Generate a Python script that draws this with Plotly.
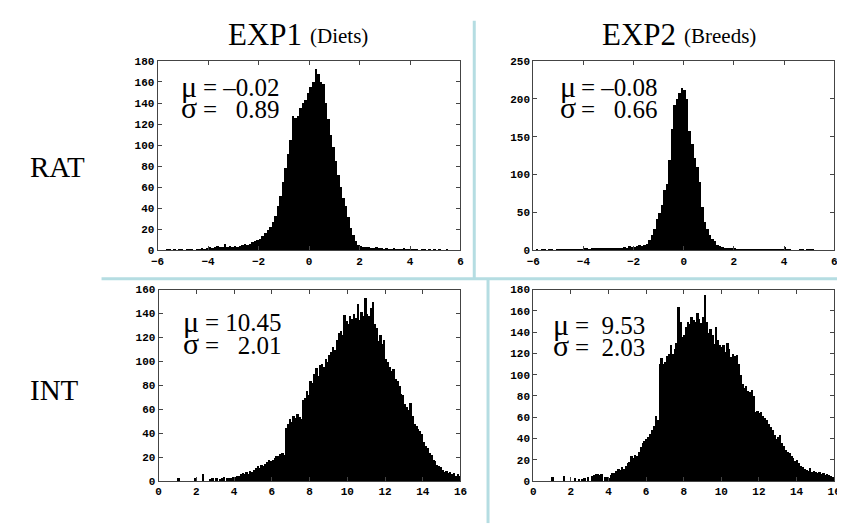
import numpy as np
import plotly.graph_objects as go
from plotly.subplots import make_subplots

# bin counts, 0.1 wide bins
# RAT panels: bins from -6 to 6, INT panels: bins from 0 to 16
exp1_rat = [
    0, 0, 0, 1, 1, 0, 1, 0, 1, 1,
    0, 1, 1, 1, 0, 1, 1, 2, 1, 2,
    3, 2, 3, 4, 3, 3, 6, 3, 4, 3,
    4, 3, 4, 5, 6, 5, 6, 8, 9, 10,
    11, 14, 17, 20, 22, 27, 33, 42, 52, 65,
    78, 92, 105, 128, 126, 128, 135, 140, 143, 150,
    155, 160, 172, 168, 160, 158, 140, 125, 110, 98,
    85, 72, 60, 50, 42, 32, 21, 15, 9, 5,
    4, 3, 3, 3, 2, 2, 3, 2, 2, 1,
    2, 1, 1, 2, 1, 1, 1, 2, 1, 1,
    1, 1, 1, 0, 1, 1, 0, 1, 0, 1,
    0, 1, 0, 0, 1, 0, 0, 0, 0, 0,
]
exp2_rat = [
    0, 1, 0, 1, 1, 0, 1, 1, 0, 1,
    1, 1, 1, 1, 2, 1, 1, 2, 2, 2,
    3, 3, 2, 3, 3, 3, 3, 3, 3, 4,
    3, 3, 4, 4, 3, 4, 5, 4, 6, 5,
    5, 6, 7, 6, 7, 9, 14, 20, 28, 42,
    50, 60, 80, 88, 120, 160, 192, 200, 208, 215,
    212, 200, 158, 140, 122, 110, 90, 58, 38, 28,
    21, 15, 12, 8, 6, 5, 4, 3, 3, 3,
    3, 2, 2, 2, 2, 1, 2, 1, 1, 2,
    1, 1, 2, 1, 1, 1, 1, 1, 2, 1,
    5, 2, 1, 0, 0, 0, 1, 1, 0, 1,
    1, 1, 0, 0, 0, 0, 0, 0, 0, 0,
]
exp1_int = [
    0, 0, 0, 0, 0, 0, 0, 0, 0, 0,
    3, 0, 0, 0, 0, 0, 0, 0, 0, 3,
    0, 0, 0, 6, 0, 0, 0, 2, 3, 0,
    3, 0, 2, 3, 4, 0, 3, 3, 3, 4,
    4, 5, 5, 6, 7, 6, 8, 6, 9, 8,
    10, 11, 13, 11, 14, 13, 15, 16, 18, 17,
    18, 20, 21, 21, 23, 24, 22, 45, 48, 52,
    50, 55, 53, 56, 54, 52, 68, 70, 76, 72,
    84, 82, 90, 95, 88, 97, 98, 96, 102, 100,
    106, 108, 112, 110, 118, 124, 126, 122, 139, 134,
    132, 138, 136, 140, 137, 148, 135, 142, 138, 153,
    140, 138, 145, 150, 132, 128, 117, 122, 115, 118,
    102, 100, 96, 92, 94, 86, 84, 80, 73, 72,
    65, 62, 60, 66, 55, 48, 46, 44, 42, 40,
    33, 30, 28, 24, 22, 18, 17, 14, 13, 12,
    10, 8, 9, 7, 8, 6, 7, 5, 6, 5,
]
exp2_int = [
    0, 0, 0, 0, 0, 0, 0, 0, 0, 0,
    4, 0, 0, 0, 0, 0, 5, 0, 0, 0,
    0, 0, 3, 0, 2, 0, 2, 3, 0, 4,
    0, 5, 6, 7, 7, 6, 7, 0, 4, 4,
    3, 6, 8, 8, 10, 12, 11, 14, 12, 15,
    17, 18, 24, 22, 25, 24, 28, 32, 36, 38,
    40, 42, 45, 48, 52, 62, 58, 110, 116, 110,
    112, 118, 120, 128, 120, 125, 130, 164, 150, 136,
    138, 145, 150, 148, 155, 152, 150, 158, 153, 149,
    155, 175, 150, 140, 143, 138, 129, 145, 133, 128,
    126, 128, 122, 130, 125, 117, 120, 118, 119, 110,
    100, 92, 88, 90, 85, 84, 86, 80, 65, 66,
    64, 65, 62, 60, 58, 54, 51, 48, 44, 40,
    42, 44, 36, 33, 30, 28, 27, 24, 22, 19,
    20, 17, 15, 14, 12, 11, 10, 13, 9, 10,
    9, 8, 9, 7, 8, 6, 7, 6, 5, 4,
]

col_titles = ["EXP1", "EXP2"]
col_subtitles = ["(Diets)", "(Breeds)"]
row_titles = ["RAT", "INT"]
mu_text = ["= –0.02", "= –0.08", "= 10.45", "=  9.53"]
sigma_text = ["=   0.89", "=   0.66", "=   2.01", "=  2.03"]
y_max = [180, 250, 160, 180]
y_step = [20, 50, 20, 20]

W, H = 845, 525
BIN = 0.1

panels = [
    (exp1_rat, -6.0, 1, 1),
    (exp2_rat, -6.0, 1, 2),
    (exp1_int, 0.0, 2, 1),
    (exp2_int, 0.0, 2, 2),
]

fig = make_subplots(rows=2, cols=2)

for counts, start, r, c in panels:
    centers = start + BIN / 2 + BIN * np.arange(len(counts))
    fig.add_trace(go.Bar(x=centers, y=counts, width=BIN,
                         marker=dict(color="black", line=dict(width=0)),
                         showlegend=False, hoverinfo="skip"), row=r, col=c)

# pixel boxes of the four plot areas (left, right, top, bottom)
boxes = [(145, 453, 49, 243), (527, 833, 49, 243),
         (146, 453, 283, 479), (527, 833, 283, 479)]
tick_font = dict(family="Liberation Mono", size=11, color="black", weight=700)

for i, (l, r, t, b) in enumerate(boxes):
    n = "" if i == 0 else str(i + 1)
    rat = i < 2
    fig.layout["xaxis" + n].update(
        domain=[l / W, r / W], range=[-6, 6] if rat else [0, 16], dtick=2,
        showline=True, linecolor="#444", linewidth=1, mirror="allticks",
        ticks="inside", ticklen=4, tickcolor="#444", showgrid=False,
        zeroline=False, tickfont=tick_font)
    fig.layout["yaxis" + n].update(
        domain=[1 - b / H, 1 - t / H], range=[0, y_max[i]], dtick=y_step[i],
        showline=True, linecolor="#444", linewidth=1, mirror="allticks",
        ticks="inside", ticklen=4, tickcolor="#444", showgrid=False,
        zeroline=False, tickfont=tick_font)

serif = "Liberation Serif"
ann = []


def label(x, y, text, size, anchor="left"):
    ann.append(dict(x=x / W, y=1 - y / H, xref="paper", yref="paper",
                    text=text, showarrow=False, borderpad=0,
                    font=dict(family=serif, size=size, color="black"),
                    xanchor=anchor, yanchor="middle"))


# column headers: big name + smaller bracket part
for k, cx in enumerate([296, 676]):
    label(cx - 3, 22, col_titles[k], 31, "right")
    label(cx + 3, 24, col_subtitles[k], 21, "left")

for k, cy in enumerate([158, 386]):
    label(14, cy, row_titles[k], 29)

stat_pos = [(168, 76, 99), (553, 76, 99), (170, 317, 340), (546, 320, 342)]
for i, (sx, my, sy) in enumerate(stat_pos):
    label(sx, my - 1, "μ", 30)
    label(sx + 22, my, mu_text[i], 25)
    label(sx, sy - 2, "σ", 30)
    label(sx + 22, sy, sigma_text[i], 25)

sep = "#b5dde2"
shapes = [
    dict(type="line", xref="paper", yref="paper", x0=467 / W, x1=467 / W,
         y0=1 - 8 / H, y1=1 - 272 / H, line=dict(color=sep, width=3)),
    dict(type="line", xref="paper", yref="paper", x0=481 / W, x1=481 / W,
         y0=1 - 272 / H, y1=1 - 522 / H, line=dict(color=sep, width=3)),
    dict(type="line", xref="paper", yref="paper", x0=88 / W, x1=1,
         y0=1 - 272 / H, y1=1 - 272 / H, line=dict(color=sep, width=3)),
]

fig.update_layout(width=W, height=H, margin=dict(l=0, r=0, t=0, b=0),
                  paper_bgcolor="white", plot_bgcolor="white",
                  bargap=0, annotations=ann, shapes=shapes)

fig.write_html("out.html")
